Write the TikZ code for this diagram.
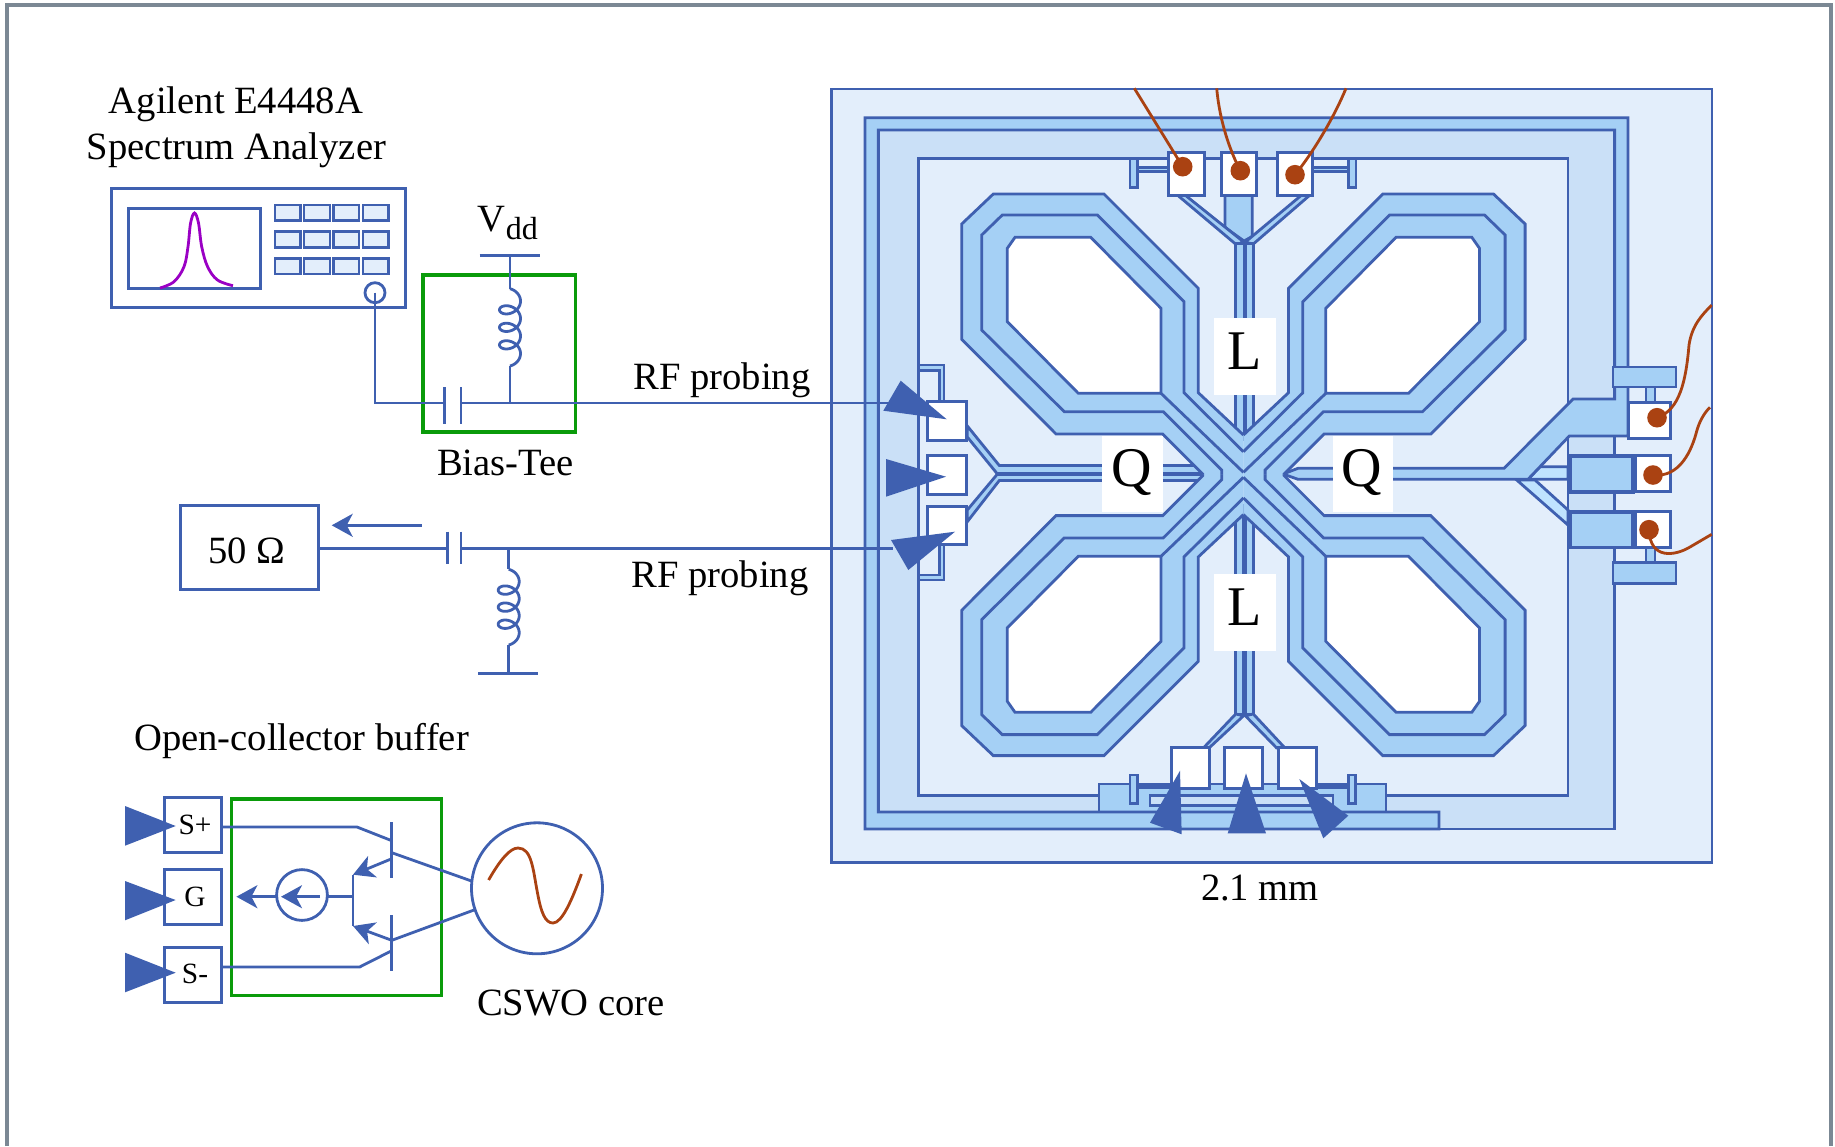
\documentclass[tikz,border=0pt]{standalone}
\usepackage{fontspec}
\setmainfont{Liberation Serif}
\usetikzlibrary{arrows.meta}
\definecolor{lnblue}{HTML}{3F60B0}
\definecolor{ringblue}{HTML}{A5D0F5}
\definecolor{chipbg}{HTML}{E3EEFB}
\definecolor{bandblue}{HTML}{CAE0F7}
\definecolor{paleblue}{HTML}{BFE3FF}
\definecolor{bondbrown}{HTML}{AA4212}
\definecolor{boxgreen}{HTML}{0A9B0A}
\definecolor{peakpurple}{HTML}{9A00C4}
\definecolor{framegray}{HTML}{7B8894}
\newcommand\rbox[6]{\node[#2,minimum width={(#5-#3)*0.5pt},minimum height={(#6-#4)*0.5pt}] (#1) at ({(#3+#5)/2},{(#4+#6)/2}) {};}
\newcommand\coilplot[3]{\draw[wire] plot[domain=0:1260,samples=180,variable=\t] ({#1+10.5*sin(\t)},{#2+8+(#3-#2-16)/1260*\t-8*cos(\t)});}
\newcommand\quadrant[2]{%
\begin{scope}[shift={(1243.4,474.8)},xscale=#1,yscale=#2]
\fill[ringblue] (-281.7,-250.8)--(-250.1,-280.8)--(-139.4,-280.8)--(-45.1,-186.5)--(-45.1,-82.1)--(0,-39.8)--(0,0)--(-40.7,0)--(-40.7,-0.8)--(-80.7,-40.8)--(-187.4,-40.8)--(-281.7,-135.5)--cycle;
\draw[chipline,line join=miter] (0,-39.8)--(-45.1,-82.1)--(-45.1,-186.5)--(-139.4,-280.8)--(-250.1,-280.8)--(-281.7,-250.8)--(-281.7,-135.5)--(-187.4,-40.8)--(-80.7,-40.8)--(-40.7,-0.8)--(-40.7,0);
\draw[chipline] (0,-23.1)--(-59.4,-82.1)--(-59.4,-173.1)--(-146.1,-259.8)--(-241.1,-259.8)--(-261.7,-239.8)--(-261.7,-144.8)--(-179.1,-63.1)--(-80.1,-63.1)--(-21.7,-4.8)--(-21.7,0);
\draw[chipline,fill=white] (-236.1,-226.5)--(-228.4,-237.5)--(-152.7,-237.5)--(-82.4,-166.5)--(-82.4,-81.5)--(-165.1,-81.5)--(-236.1,-153.1)--cycle;
\draw[chipline] (-82.4,-81.5)--(0,-2.5);
\end{scope}}
\tikzset{
  wire/.style={draw=lnblue,line width=1.4pt},
  chipline/.style={draw=lnblue,line width=1.4pt,line join=miter},
  gbox/.style={draw=boxgreen,line width=1.6pt},
  plainbox/.style={draw=lnblue,line width=1.5pt,inner sep=0pt,outer sep=0pt},
  whitebox/.style={draw=lnblue,fill=white,line width=1.5pt,inner sep=0pt,outer sep=0pt},
  ringbox/.style={draw=lnblue,fill=ringblue,line width=1.4pt,inner sep=0pt,outer sep=0pt},
  thickringbox/.style={draw=lnblue,fill=ringblue,line width=1.8pt,inner sep=0pt,outer sep=0pt},
  keybox/.style={draw=lnblue,fill=chipbg,line width=1.4pt,inner sep=0pt,outer sep=0pt},
  labelmask/.style={fill=white,draw=none,inner sep=0pt,outer sep=0pt},
  txt/.style={font=\fontsize{19.3}{23}\selectfont,inner sep=0pt,anchor=base},
  smalltxt/.style={font=\fontsize{14.7}{18}\selectfont,inner sep=0pt,anchor=base},
  bigtxt/.style={font=\fontsize{28}{32}\selectfont,inner sep=0pt,anchor=base},
  dot/.style={circle,fill=bondbrown,draw=none,minimum size=9.8pt,inner sep=0pt,outer sep=0pt},
  bond/.style={draw=bondbrown,line width=1.4pt},
  probe/.style={fill=lnblue,draw=none},
  tip/.style={-{Stealth[length=10.5pt,width=11.5pt,inset=3pt]}},
  ringcircle/.style={circle,draw=lnblue,line width=1.4pt,inner sep=0pt,outer sep=0pt},
}
\begin{document}
\begin{tikzpicture}[x=0.5pt,y=-0.5pt]
\useasboundingbox (0,0) rectangle (1835,1146);
% outer frame
\draw[draw=framegray,line width=1.9pt] (7,1146)--(7,5)--(1831,5)--(1831,1146);

% ---------- chip
\draw[chipline,fill=chipbg] (831.7,89) rectangle (1712,862.3);
\draw[chipline,fill=bandblue] (878.3,130) rectangle (1614.6,829);
\draw[chipline,fill=chipbg] (918.3,158.3) rectangle (1568,795.5);
% bottom strip
\rbox{botstrip}{ringbox}{1099}{784}{1386}{814}
\node[draw=lnblue,fill=bandblue,line width=1.4pt,inner sep=0pt,outer sep=0pt,minimum width=91.5pt,minimum height=5.3pt] (botinner) at (1241.5,800.4) {};
% pale traces
\draw[chipline,fill=paleblue] (1528,479.3)--(1540,466.7)--(1568,466.7)--(1568,479.3)--cycle;
\draw[chipline,fill=paleblue] (1516.7,480)--(1535,480)--(1568,510)--(1568,525)--cycle;
% guard ring with right-hand feed into the Q line
\draw[chipline,fill=ringblue] (865,829)--(865,117.7)--(1628,117.7)--(1628,436)--(1569.3,436)--(1528,479.3)--(1298,479.3)--(1283,474)--(1298,468.3)--(1504,468.3)--(1573,399)--(1614.6,399)--(1614.6,130)--(878.3,130)--(878.3,812)--(1439,812)--(1439,829)--cycle;
% left Q traces
\draw[chipline,fill=ringblue] (967.3,426)--(999.3,465.5)--(1204,465.5)--(1204,473.5)--(997,473.5)--(967.3,437)--cycle;
\draw[chipline,fill=ringblue] (967.3,510)--(997,474.5)--(1204,474.5)--(1204,480.5)--(999.3,480.5)--(967.3,521.7)--cycle;
% top L feeds
\draw[chipline,fill=ringblue] (1225,195)--(1252.3,195)--(1252.3,236.4)--(1244,241)--(1225,227.4)--cycle;
\draw[chipline,fill=ringblue] (1177.3,195)--(1185,195)--(1243.3,241.7)--(1236.7,245)--cycle;
\draw[chipline,fill=ringblue] (1310,195)--(1301.7,195)--(1245,242.3)--(1253.3,244)--cycle;
\draw[chipline,fill=ringblue] (1235.7,243.5) rectangle (1244.2,440);
\draw[chipline,fill=ringblue] (1245.2,243.5) rectangle (1253.3,440);
% bottom L feeds
\draw[chipline,fill=ringblue] (1235.7,505) rectangle (1243.6,714);
\draw[chipline,fill=ringblue] (1245.3,505) rectangle (1253.3,714);
\draw[chipline,fill=ringblue] (1204.3,747)--(1235.7,714)--(1243.6,715.7)--(1209,748)--cycle;
\draw[chipline,fill=ringblue] (1284,747)--(1253.3,714)--(1245.3,715.7)--(1276.7,748)--cycle;
% four loops
\quadrant{1}{1}
\quadrant{-1}{1}
\quadrant{1}{-1}
\quadrant{-1}{-1}
% stubs, left
\draw[chipline,fill=ringblue] (918.3,365)--(944,365)--(944,402)--(939.3,402)--(939.3,370.7)--(918.3,370.7)--cycle;
\draw[chipline,fill=ringblue] (918.3,580)--(944,580)--(944,544)--(939.3,544)--(939.3,575)--(918.3,575)--cycle;
% stubs, top and bottom T
\rbox{ttl}{ringbox}{1130}{159}{1137.3}{187.3}
\rbox{ttr}{ringbox}{1348.3}{159}{1356}{187.3}
\rbox{tbl}{ringbox}{1130}{775}{1137.3}{803.3}
\rbox{tbr}{ringbox}{1348.3}{775}{1355.7}{803.3}
\rbox{sttl}{ringbox}{1137.3}{167.3}{1168.3}{171.7}
\rbox{sttr}{ringbox}{1312.7}{167.3}{1348.3}{171.7}
\rbox{stbl}{ringbox}{1137.3}{784.3}{1172}{787.7}
\rbox{stbr}{ringbox}{1316}{784.3}{1346.7}{787.7}
% right bars and boxes
\rbox{rs1}{ringbox}{1646}{385}{1655}{403}
\rbox{rs2}{ringbox}{1646}{547}{1655}{564}
\rbox{rbar1}{ringbox}{1613}{367}{1676}{387}
\rbox{rbar2}{ringbox}{1613}{562.7}{1676}{583.3}
\rbox{rbox1}{thickringbox}{1570}{455.7}{1633}{491.7}
\rbox{rbox2}{thickringbox}{1570}{511.7}{1633}{547.3}
% pads
\rbox{padT1}{whitebox}{1168.3}{152.7}{1204}{195.7}
\rbox{padT2}{whitebox}{1221}{152.7}{1256.7}{195.7}
\rbox{padT3}{whitebox}{1277.3}{152.7}{1312.7}{195.7}
\rbox{padB1}{whitebox}{1171.7}{747.3}{1209}{788.3}
\rbox{padB2}{whitebox}{1224.7}{747.3}{1262.7}{788.3}
\rbox{padB3}{whitebox}{1278.3}{747.3}{1316}{788.3}
\rbox{padL1}{whitebox}{927.7}{401.7}{966.7}{440}
\rbox{padL2}{whitebox}{927.7}{455.3}{966.7}{494}
\rbox{padL3}{whitebox}{927.7}{506}{966.7}{544}
\rbox{padR1}{whitebox}{1628}{402.7}{1670.7}{438}
\rbox{padR2}{whitebox}{1635}{455.7}{1670.7}{491.7}
\rbox{padR3}{whitebox}{1635}{511.7}{1670.7}{547.3}
% labels on chip
\rbox{maskLt}{labelmask}{1214.3}{318}{1275.7}{395}
\rbox{maskLb}{labelmask}{1214.3}{574}{1275.7}{651}
\rbox{maskQl}{labelmask}{1102.3}{436}{1163.3}{512.3}
\rbox{maskQr}{labelmask}{1332.5}{436}{1393}{512.3}
\node[bigtxt] (Ltop) at (1244.5,369.3) {L};
\node[bigtxt] (Lbot) at (1244.5,625) {L};
\node[bigtxt] (Qleft) at (1132,486) {Q};
\node[bigtxt] (Qright) at (1362,486) {Q};
% bond wires
\node[dot] (d1) at (1182.7,166.7) {};
\node[dot] (d2) at (1240.3,170.7) {};
\node[dot] (d3) at (1295,174.7) {};
\node[dot] (d4) at (1657,417.7) {};
\node[dot] (d5) at (1653,475) {};
\node[dot] (d6) at (1649,529.7) {};
\coordinate (w1) at (1134.3,88.3);
\coordinate (w2) at (1216.7,88.3);
\coordinate (w3) at (1346,88.3);
\coordinate (w4) at (1711.7,305);
\coordinate (w5) at (1710,407.3);
\coordinate (w6) at (1711.7,534.3);
\draw[bond] (d1.center)--(w1);
\draw[bond] (d2.center) .. controls (1227,145) and (1219,115) .. (w2);
\draw[bond] (d3.center) .. controls (1315,150) and (1335,115) .. (w3);
\draw[bond] (d4.center) .. controls (1680,410) and (1686,380) .. (1689,345) .. controls (1692,325) and (1702,315) .. (w4);
\draw[bond] (d5.center) .. controls (1680,478) and (1692,450) .. (1697,430) .. controls (1700,420) and (1705,412) .. (w5);
\draw[bond] (d6.center) .. controls (1650,560) and (1675,556) .. (1690,547) -- (w6);

% ---------- spectrum analyzer
\rbox{sa}{plainbox}{111.5}{188}{405}{307}
\rbox{screen}{plainbox}{128.5}{208}{260}{288}
\rbox{k11}{keybox}{275}{205}{300.5}{220.7}
\rbox{k12}{keybox}{304}{205}{330}{220.7}
\rbox{k13}{keybox}{333.3}{205}{359}{220.7}
\rbox{k14}{keybox}{363}{205}{388.7}{220.7}
\rbox{k21}{keybox}{275}{231.7}{300.5}{247.3}
\rbox{k22}{keybox}{304}{231.7}{330}{247.3}
\rbox{k23}{keybox}{333.3}{231.7}{359}{247.3}
\rbox{k24}{keybox}{363}{231.7}{388.7}{247.3}
\rbox{k31}{keybox}{275}{258.3}{300.5}{274}
\rbox{k32}{keybox}{304}{258.3}{330}{274}
\rbox{k33}{keybox}{333.3}{258.3}{359}{274}
\rbox{k34}{keybox}{363}{258.3}{388.7}{274}
\draw[draw=peakpurple,line width=1.4pt] plot[smooth,tension=0.6] coordinates {(160,288)(174,281.7)(184,266.7)(188,246.7)(190.6,223)(194.5,213)(198.5,223)(201.7,246.7)(207.6,266.7)(217.5,280)(233,285.7)};
\node[ringcircle,minimum size=10pt] (port) at (375,292.7) {};
\node[txt] (lab1) at (236,113.7) {Agilent E4448A};
\node[txt] (lab2) at (236.5,159) {Spectrum Analyzer};

% ---------- bias tee upper
\rbox{teebox}{gbox,inner sep=0pt,outer sep=0pt}{423}{275}{575.7}{432}
\coordinate (capa1) at (444.8,403);
\coordinate (capb1) at (461,403);
\coordinate (tee1) at (510,403);
\coordinate (rf1) at (890,403);
\coordinate (vddc) at (510,255.7);
\coordinate (coil1t) at (510,288.7);
\coordinate (coil1b) at (510,366);
\draw[wire] (port.center)--(375,403)--(capa1);
\draw[wire] (capb1)--(tee1)--(rf1);
\draw[wire] (444.8,387)--(444.8,424);
\draw[wire] (461,387)--(461,424);
\draw[wire] (479.6,255.7)--(539.7,255.7);
\draw[wire] (vddc)--(coil1t);
\coilplot{510}{288.7}{366}
\draw[wire] (coil1b)--(tee1);
\node[txt,anchor=base west] (vdd) at (477.5,231) {V\raisebox{-4.3pt}{\fontsize{16}{16}\selectfont dd}};
\node[txt] (biaslab) at (505.5,475) {Bias-Tee};
\node[txt] (rfa) at (722,389.5) {RF probing};

% ---------- 50 ohm branch
\rbox{load}{plainbox}{180}{505.7}{318.3}{589.3}
\coordinate (capa2) at (447.3,548.3);
\coordinate (capb2) at (461,548.3);
\coordinate (tee2) at (508.7,548.3);
\coordinate (rf2) at (893,548.3);
\coordinate (coil2t) at (508.7,569.3);
\coordinate (coil2b) at (508.7,645);
\coordinate (gnd2) at (508.7,673.3);
\coordinate (flowa) at (421.7,525.3);
\coordinate (flowb) at (331.7,525.3);
\draw[wire] (load.east |- capa2)--(capa2);
\draw[wire] (capb2)--(tee2)--(rf2);
\draw[wire] (447.3,531.7)--(447.3,564);
\draw[wire] (461,531.7)--(461,564);
\draw[wire] (tee2)--(coil2t);
\coilplot{508.7}{569.3}{645}
\draw[wire] (coil2b)--(gnd2);
\draw[wire] (478.3,673.3)--(538.3,673.3);
\draw[wire,tip] (flowa)--(flowb);
\node[txt] (ohm) at (247,563) {50 Ω};
\node[txt] (rfb) at (720,587) {RF probing};

% big probes on chip
\fill[probe] (900.7,380.7)--(883.3,410.7)--(946.7,419.3)--cycle;
\fill[probe] (886,459)--(886,496.7)--(946,476.7)--cycle;
\fill[probe] (891,540)--(908.3,570)--(955,531.7)--cycle;
\fill[probe] (1180,770.7)--(1150,822.7)--(1181.7,834.3)--cycle;
\fill[probe] (1246,773.3)--(1227.7,833.3)--(1266,833.3)--cycle;
\fill[probe] (1299.3,779)--(1323.3,838.3)--(1348.3,815.7)--cycle;
\node[txt] (size) at (1260,900) {2.1 mm};

% ---------- open-collector buffer
\node[txt] (oclab) at (301.5,750) {Open-collector buffer};
\rbox{sp}{plainbox}{164.3}{797.7}{221.4}{852.7}
\rbox{sg}{plainbox}{164.3}{869.7}{221.4}{924.7}
\rbox{sm}{plainbox}{164.3}{947}{221.4}{1002}
\node[smalltxt] (spl) at (195,834.3) {S+};
\node[smalltxt] (sgl) at (195,906) {G};
\node[smalltxt] (sml) at (195,983.3) {S-};
\fill[probe] (125,806)--(125,845.7)--(175.7,826)--cycle;
\fill[probe] (125,881)--(125,920.3)--(175.7,900)--cycle;
\fill[probe] (125,952.7)--(125,992.3)--(175.7,972.7)--cycle;
\rbox{bufbox}{gbox,inner sep=0pt,outer sep=0pt}{231.4}{799}{441.4}{995.3}
\node[ringcircle,minimum size=25.4pt] (isrc) at (302,895) {};
\node[ringcircle,minimum size=65.5pt] (core) at (537,888.3) {};
\coordinate (bup) at (391.8,840.7);
\coordinate (bdn) at (391.8,950.7);
\coordinate (cup) at (391.8,852.7);
\coordinate (cdn) at (391.8,940.3);
\coordinate (eup) at (391.8,858.7);
\coordinate (edn) at (391.8,940.3);
\coordinate (ejt) at (353,896.7);
\coordinate (ejta) at (353,874.7);
\coordinate (ejtb) at (353,926);
\draw[wire] (sp.east |- 0,827)--(357,827)--(bup);
\draw[wire] (sm.east |- 0,967)--(359.6,967)--(bdn);
\draw[wire] (391.8,822.3)--(391.8,877.7);
\draw[wire] (391.8,915.3)--(391.8,971);
\draw[wire] (cup)--(core.west |- 0,881);
\draw[wire] (cdn)--(474,910);
\draw[wire,tip] (eup)--(ejta);
\draw[wire,tip] (edn)--(ejtb);
\draw[wire] (ejta)--(ejtb);
\draw[wire] (ejt)--(327.4,896.7);
\draw[wire,tip] (320,896.7)--(281,896.7);
\draw[wire,tip] (276.6,896.7)--(236.4,896.7);
\draw[bond] (488.6,880) .. controls (500,860) and (510,848) .. (518,848) .. controls (532,848) and (533,870) .. (537.5,893) .. controls (541,912) and (545,923) .. (553,923) .. controls (562,923) and (572,900) .. (581.4,874);
\node[txt] (cswo) at (571,1015.5) {CSWO core};
\end{tikzpicture}
\end{document}
